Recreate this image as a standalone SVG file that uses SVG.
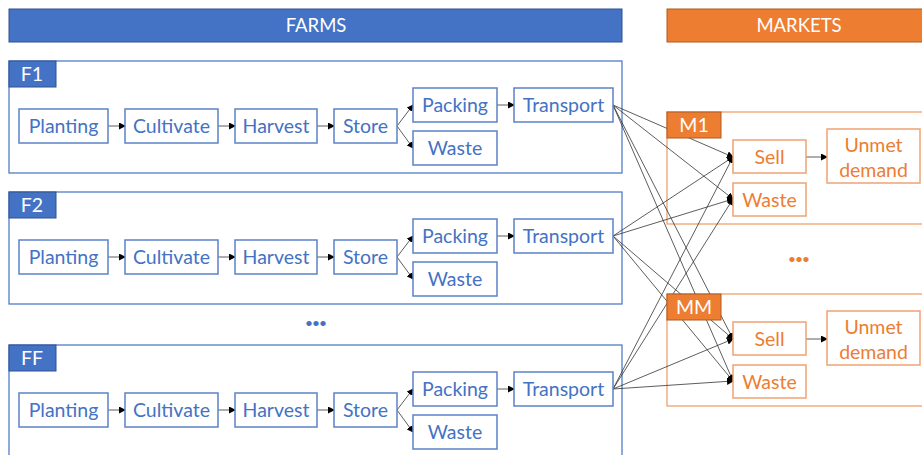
<svg xmlns="http://www.w3.org/2000/svg" width="922" height="455" viewBox="0 0 922 455">
<defs>
<style>
text{font-family:Lato,"Open Sans","Liberation Sans",sans-serif;font-size:19.5px;text-anchor:middle}
.hd{font-size:18.5px}
.bar-b{fill:#4472C4;stroke:#2F528F;stroke-width:1}
.bar-o{fill:#ED7D31;stroke:#AE5A21;stroke-width:1}
.wt{fill:#ffffff}
.cont-b{fill:#ffffff;stroke:#4472C4;stroke-width:1.2}
.cont-o{fill:#ffffff;stroke:#EF9A62;stroke-width:1.2}
.nb{fill:#ffffff;stroke:#5B82C9;stroke-width:1.5}
.no{fill:#ffffff;stroke:#F0A272;stroke-width:1.5}
.tb{fill:#4472C4}
.to{fill:#ED7D31}
.dots{font-weight:bold;font-size:12px}
.c{stroke:#333333;stroke-width:0.8;fill:none;marker-end:url(#ah)}
</style>
<marker id="ah" markerWidth="7" markerHeight="7" refX="6" refY="3.5" orient="auto" markerUnits="userSpaceOnUse">
<path d="M0,0 L7,3.5 L0,7 z" fill="#000000"/>
</marker>
</defs>

<!-- headers -->
<g id="farms-header">
<rect class="bar-b" x="9" y="9" width="613" height="33"/>
<text class="wt hd" x="316" y="32">FARMS</text>
</g>
<g id="markets-header">
<rect class="bar-o" x="667" y="9" width="260" height="33"/>
<text class="wt hd" x="799" y="32">MARKETS</text>
</g>

<!-- containers -->
<rect id="F1-box" class="cont-b" x="9" y="61" width="613" height="112"/>
<rect id="F2-box" class="cont-b" x="9" y="192" width="613" height="112"/>
<rect id="FF-box" class="cont-b" x="9" y="345" width="613" height="112"/>
<rect id="M1-box" class="cont-o" x="667" y="112" width="260" height="112"/>
<rect id="MM-box" class="cont-o" x="667" y="294" width="260" height="112"/>

<text class="tb dots" x="316" y="327">•••</text>
<text class="to dots" x="799" y="263">•••</text>

<!-- connectors -->
<g id="connectors">
<!-- F1 -->
<line class="c" x1="108" y1="126" x2="125" y2="126"/>
<line class="c" x1="218" y1="126" x2="235" y2="126"/>
<line class="c" x1="317" y1="126" x2="334" y2="126"/>
<line class="c" x1="397" y1="126" x2="413" y2="105"/>
<line class="c" x1="397" y1="126" x2="413" y2="148"/>
<line class="c" x1="497" y1="105" x2="514" y2="105"/>
<!-- F2 -->
<line class="c" x1="108" y1="257" x2="125" y2="257"/>
<line class="c" x1="218" y1="257" x2="235" y2="257"/>
<line class="c" x1="317" y1="257" x2="334" y2="257"/>
<line class="c" x1="397" y1="257" x2="413" y2="236"/>
<line class="c" x1="397" y1="257" x2="413" y2="279"/>
<line class="c" x1="497" y1="236" x2="514" y2="236"/>
<!-- FF -->
<line class="c" x1="108" y1="410" x2="125" y2="410"/>
<line class="c" x1="218" y1="410" x2="235" y2="410"/>
<line class="c" x1="317" y1="410" x2="334" y2="410"/>
<line class="c" x1="397" y1="410" x2="413" y2="389"/>
<line class="c" x1="397" y1="410" x2="413" y2="432"/>
<line class="c" x1="497" y1="389" x2="514" y2="389"/>
<!-- markets internal -->
<line class="c" x1="806" y1="157" x2="827" y2="157"/>
<line class="c" x1="806" y1="339" x2="827" y2="339"/>
<!-- transport to markets -->
<line class="c" x1="613" y1="105" x2="733" y2="157"/>
<line class="c" x1="613" y1="105" x2="733" y2="199"/>
<line class="c" x1="613" y1="105" x2="733" y2="339"/>
<line class="c" x1="613" y1="105" x2="733" y2="381"/>
<line class="c" x1="613" y1="236" x2="733" y2="157"/>
<line class="c" x1="613" y1="236" x2="733" y2="199"/>
<line class="c" x1="613" y1="236" x2="733" y2="339"/>
<line class="c" x1="613" y1="236" x2="733" y2="381"/>
<line class="c" x1="613" y1="389" x2="733" y2="157"/>
<line class="c" x1="613" y1="389" x2="733" y2="199"/>
<line class="c" x1="613" y1="389" x2="733" y2="339"/>
<line class="c" x1="613" y1="389" x2="733" y2="381"/>
</g>

<!-- container labels -->
<g id="F1-label"><rect class="bar-b" x="9" y="61" width="47" height="26"/><text class="wt" x="32" y="81">F1</text></g>
<g id="F2-label"><rect class="bar-b" x="9" y="192" width="47" height="26"/><text class="wt" x="32" y="212">F2</text></g>
<g id="FF-label"><rect class="bar-b" x="9" y="345" width="47" height="26"/><text class="wt" x="32" y="365">FF</text></g>
<g id="M1-label"><rect class="bar-o" x="667" y="112" width="54" height="26"/><text class="wt" x="694" y="132">M1</text></g>
<g id="MM-label"><rect class="bar-o" x="667" y="294" width="54" height="26"/><text class="wt" x="694" y="314">MM</text></g>

<!-- F1 nodes -->
<g id="F1-planting"><rect class="nb" x="19" y="109" width="89" height="34"/><text class="tb" x="63.5" y="133">Planting</text></g>
<g id="F1-cultivate"><rect class="nb" x="125" y="109" width="93" height="34"/><text class="tb" x="171.5" y="133">Cultivate</text></g>
<g id="F1-harvest"><rect class="nb" x="235" y="109" width="82" height="34"/><text class="tb" x="276" y="133">Harvest</text></g>
<g id="F1-store"><rect class="nb" x="334" y="109" width="63" height="34"/><text class="tb" x="365.5" y="133">Store</text></g>
<g id="F1-packing"><rect class="nb" x="413" y="88" width="84" height="34"/><text class="tb" x="455" y="112">Packing</text></g>
<g id="F1-waste"><rect class="nb" x="413" y="131" width="84" height="34"/><text class="tb" x="455" y="155">Waste</text></g>
<g id="F1-transport"><rect class="nb" x="514" y="88" width="99" height="34"/><text class="tb" x="563.5" y="112">Transport</text></g>

<!-- F2 nodes -->
<g id="F2-planting"><rect class="nb" x="19" y="240" width="89" height="34"/><text class="tb" x="63.5" y="264">Planting</text></g>
<g id="F2-cultivate"><rect class="nb" x="125" y="240" width="93" height="34"/><text class="tb" x="171.5" y="264">Cultivate</text></g>
<g id="F2-harvest"><rect class="nb" x="235" y="240" width="82" height="34"/><text class="tb" x="276" y="264">Harvest</text></g>
<g id="F2-store"><rect class="nb" x="334" y="240" width="63" height="34"/><text class="tb" x="365.5" y="264">Store</text></g>
<g id="F2-packing"><rect class="nb" x="413" y="219" width="84" height="34"/><text class="tb" x="455" y="243">Packing</text></g>
<g id="F2-waste"><rect class="nb" x="413" y="262" width="84" height="34"/><text class="tb" x="455" y="286">Waste</text></g>
<g id="F2-transport"><rect class="nb" x="514" y="219" width="99" height="34"/><text class="tb" x="563.5" y="243">Transport</text></g>

<!-- FF nodes -->
<g id="FF-planting"><rect class="nb" x="19" y="393" width="89" height="34"/><text class="tb" x="63.5" y="417">Planting</text></g>
<g id="FF-cultivate"><rect class="nb" x="125" y="393" width="93" height="34"/><text class="tb" x="171.5" y="417">Cultivate</text></g>
<g id="FF-harvest"><rect class="nb" x="235" y="393" width="82" height="34"/><text class="tb" x="276" y="417">Harvest</text></g>
<g id="FF-store"><rect class="nb" x="334" y="393" width="63" height="34"/><text class="tb" x="365.5" y="417">Store</text></g>
<g id="FF-packing"><rect class="nb" x="413" y="372" width="84" height="34"/><text class="tb" x="455" y="396">Packing</text></g>
<g id="FF-waste"><rect class="nb" x="413" y="415" width="84" height="34"/><text class="tb" x="455" y="439">Waste</text></g>
<g id="FF-transport"><rect class="nb" x="514" y="372" width="99" height="34"/><text class="tb" x="563.5" y="396">Transport</text></g>

<!-- M1 nodes -->
<g id="M1-sell"><rect class="no" x="733" y="140" width="73" height="33"/><text class="to" x="769.5" y="163.5">Sell</text></g>
<g id="M1-waste"><rect class="no" x="733" y="183" width="73" height="33"/><text class="to" x="769.5" y="206.5">Waste</text></g>
<g id="M1-unmet"><rect class="no" x="827" y="129" width="93" height="54"/><text class="to" x="873.5" y="151.5">Unmet</text><text class="to" x="873.5" y="176.5">demand</text></g>

<!-- MM nodes -->
<g id="MM-sell"><rect class="no" x="733" y="322" width="73" height="33"/><text class="to" x="769.5" y="345.5">Sell</text></g>
<g id="MM-waste"><rect class="no" x="733" y="365" width="73" height="33"/><text class="to" x="769.5" y="388.5">Waste</text></g>
<g id="MM-unmet"><rect class="no" x="827" y="311" width="93" height="54"/><text class="to" x="873.5" y="333.5">Unmet</text><text class="to" x="873.5" y="358.5">demand</text></g>
</svg>
